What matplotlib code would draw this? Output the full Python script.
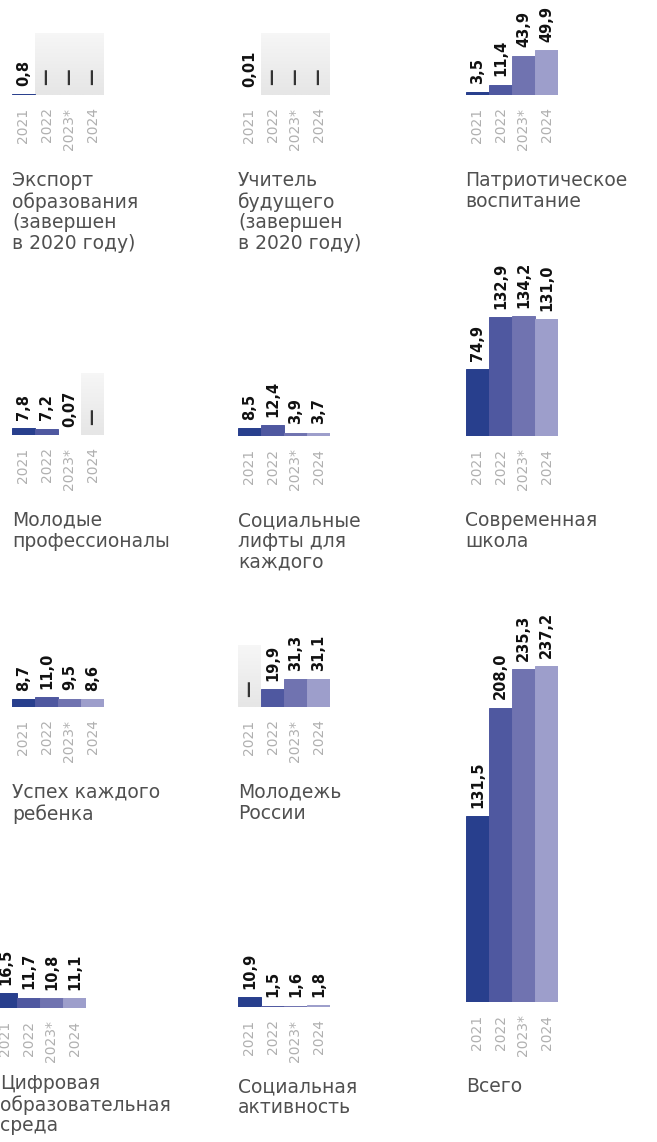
import matplotlib as mpl
mpl.use('Agg')
import numpy as np
import matplotlib.pyplot as plt

# figure size in pixels
W, H = 657, 1142

years = ["2021", "2022", "2023*", "2024"]
year_colors = ["#283f8d", "#4f58a0", "#7073b0", "#9d9ecb"]

# values per national project (None = no data, shown as a dash)
export_edu = [0.8, None, None, None]
teacher_future = [0.01, None, None, None]
patriotic = [3.5, 11.4, 43.9, 49.9]
young_prof = [7.8, 7.2, 0.07, None]
social_lifts = [8.5, 12.4, 3.9, 3.7]
modern_school = [74.9, 132.9, 134.2, 131.0]
child_success = [8.7, 11.0, 9.5, 8.6]
youth_russia = [None, 19.9, 31.3, 31.1]
total = [131.5, 208.0, 235.3, 237.2]
digital_env = [16.5, 11.7, 10.8, 11.1]
social_activity = [10.9, 1.5, 1.6, 1.8]

titles = {
    "export": "Экспорт\nобразования\n(завершен\nв 2020 году)",
    "teacher": "Учитель\nбудущего\n(завершен\nв 2020 году)",
    "patriotic": "Патриотическое\nвоспитание",
    "young": "Молодые\nпрофессионалы",
    "lifts": "Социальные\nлифты для\nкаждого",
    "school": "Современная\nшкола",
    "child": "Успех каждого\nребенка",
    "youth": "Молодежь\nРоссии",
    "total": "Всего",
    "digital": "Цифровая\nобразовательная\nсреда",
    "activity": "Социальная\nактивность",
}

# (values, title key, left px, baseline px, px per unit, title x px, title top px)
panels = [
    (export_edu, "export", 12, 95, 0.894, 12, 171),
    (teacher_future, "teacher", 238, 95, 0.894, 238, 171),
    (patriotic, "patriotic", 466, 95, 0.894, 465, 171),
    (young_prof, "young", 12, 435, 0.894, 12, 511),
    (social_lifts, "lifts", 238, 436, 0.894, 238, 511),
    (modern_school, "school", 466, 436, 0.894, 465, 511),
    (child_success, "child", 12, 707, 0.894, 12, 783),
    (youth_russia, "youth", 238, 707, 0.894, 238, 783),
    (total, "total", 466, 1002, 1.415, 466, 1077),
    (digital_env, "digital", -6, 1008, 0.894, 0, 1074),
    (social_activity, "activity", 238, 1007, 0.894, 238, 1077),
]

bar_px = 23
shade_px = 62

fig = plt.figure(figsize=(W / 100, H / 100), dpi=100)
fig.patch.set_facecolor('white')


def fmt(v):
    if v < 0.1:
        return ("%.2f" % v).replace('.', ',')
    return ("%.1f" % v).replace('.', ',')


shade_cmap = mpl.colors.LinearSegmentedColormap.from_list('g', ['#ffffff', '#e6e6e6'])

for vals, key, x0, base, scale, tx, ty in panels:
    known = [v for v in vals if v is not None]
    ymax = max(max(known), shade_px / scale) * 1.05
    ax = fig.add_axes([x0 / W, (H - base) / H, 4 * bar_px / W, ymax * scale / H])
    ax.set_xlim(-0.5, 3.5)
    ax.set_ylim(0, ymax)
    ax.axis('off')

    # grey shading for years without data
    grad = np.linspace(1.0, 0.35, 50).reshape(-1, 1)
    for i, v in enumerate(vals):
        if v is None:
            ax.imshow(grad, extent=(i - 0.5, i + 0.5, 0, shade_px / scale), origin='lower',
                      cmap=shade_cmap, vmin=0, vmax=1, aspect='auto', zorder=0)

    for i, v in enumerate(vals):
        if v is None:
            ax.annotate("—", (i, 0), xytext=(0, 7), textcoords='offset points',
                        rotation=90, ha='center', va='bottom', fontsize=12,
                        fontweight='bold', color='#333333', annotation_clip=False)
            continue
        ax.bar(i, v, width=1.0, color=year_colors[i], edgecolor=year_colors[i],
               linewidth=0.7, zorder=2)
        ax.annotate(fmt(v), (i, v), xytext=(0, 6), textcoords='offset points',
                    rotation=90, ha='center', va='bottom', fontsize=10.5,
                    fontweight='bold', color='#111111', annotation_clip=False)

    for i, y in enumerate(years):
        ax.annotate(y, (i, 0), xytext=(0, -9), textcoords='offset points',
                    rotation=90, ha='center', va='top', fontsize=10,
                    color='#b0b0b0', annotation_clip=False)

    fig.text(tx / W, 1 - ty / H, titles[key], ha='left', va='top',
             fontsize=13.5, color='#505050', linespacing=1.12)

plt.savefig('out.png', dpi=100)
plt.close()
